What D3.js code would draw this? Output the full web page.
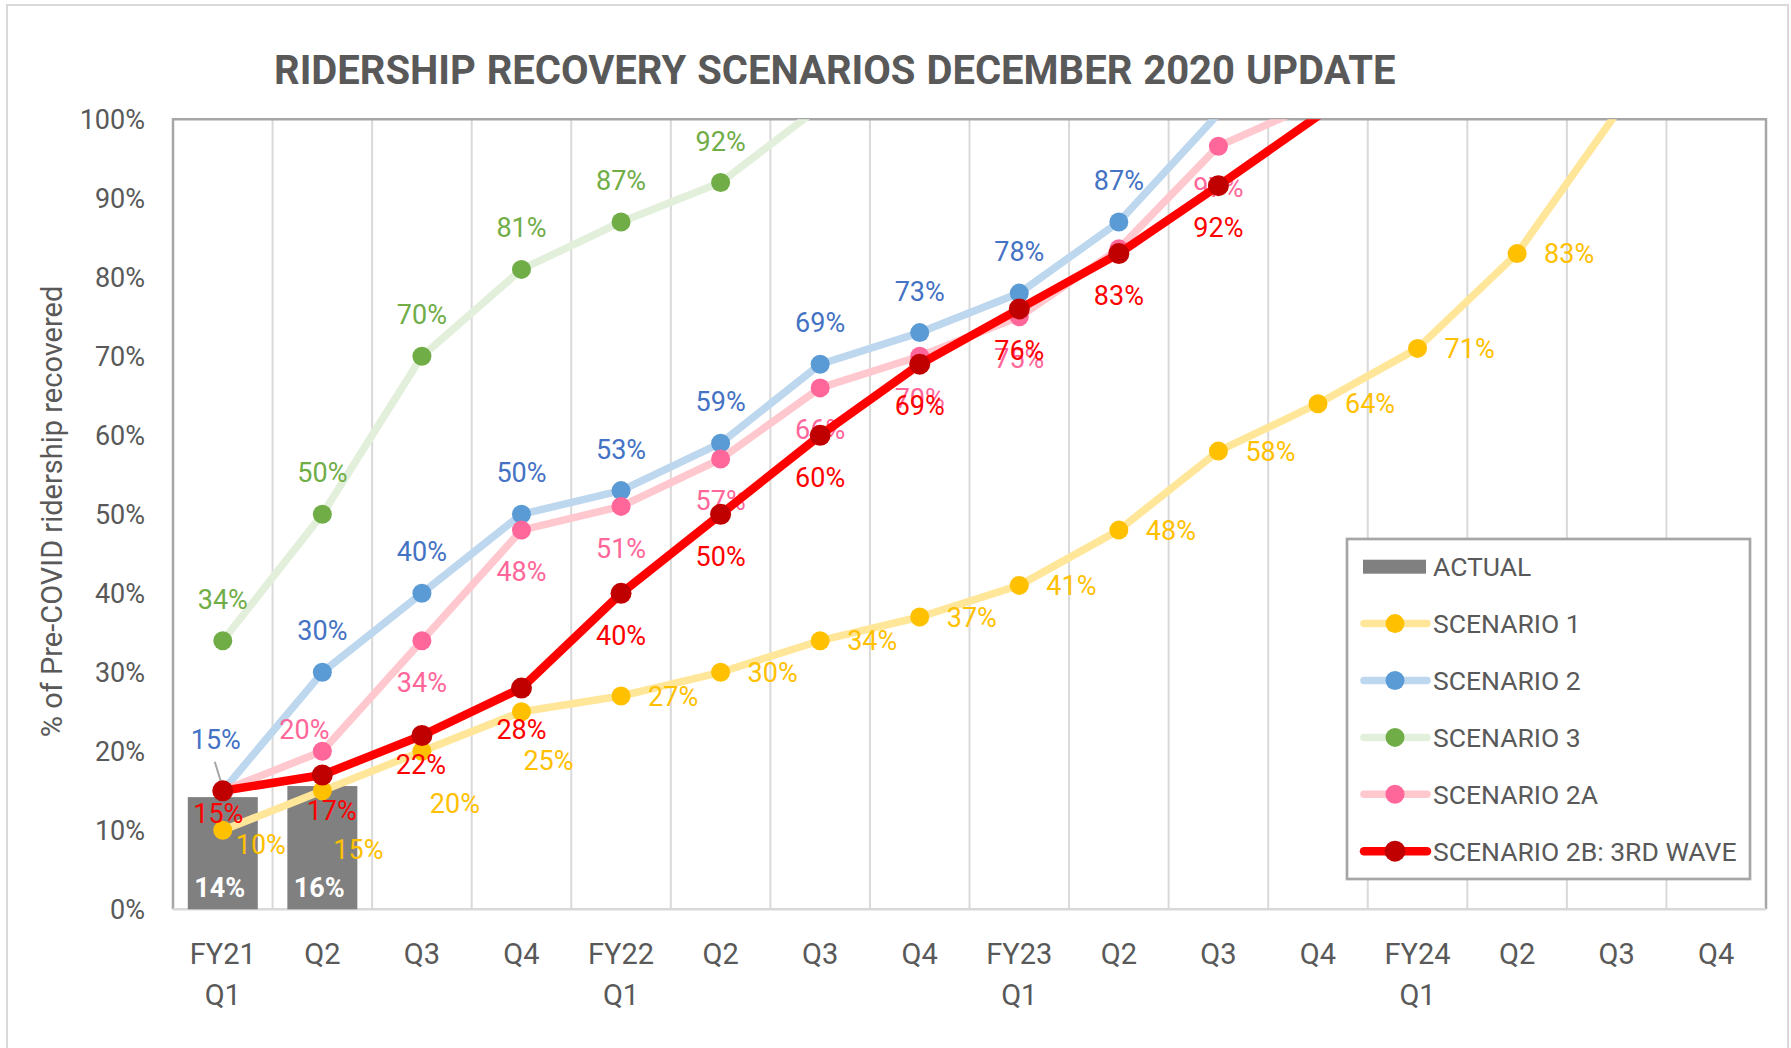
<!DOCTYPE html>
<html>
<head>
<meta charset="utf-8">
<script src="https://cdn.jsdelivr.net/npm/d3@7"></script>
<style>
  body { margin: 0; background: #fff; }
  svg { display: block; }
  text { font-family: Roboto, "Open Sans", sans-serif; }
</style>
</head>
<body>
<svg id="chart" width="1791" height="1048"></svg>
<script>
// ---------------- DATA ----------------
const quarterLabels = [["FY21","Q1"],["Q2"],["Q3"],["Q4"],["FY22","Q1"],["Q2"],["Q3"],["Q4"],
                       ["FY23","Q1"],["Q2"],["Q3"],["Q4"],["FY24","Q1"],["Q2"],["Q3"],["Q4"]];
const yTicks = [0,10,20,30,40,50,60,70,80,90,100];
const actual     = [14.2, 15.6, null, null, null, null, null, null, null, null, null, null, null, null, null, null];
const scenario1  = [10, 15, 20, 25, 27, 30, 34, 37, 41, 48, 58, 64, 71, 83, 100.8, null];
const scenario2  = [15, 30, 40, 50, 53, 59, 69, 73, 78, 87, 100.7, null, null, null, null, null];
const scenario3  = [34, 50, 70, 81, 87, 92, 101.6, null, null, null, null, null, null, null, null, null];
const scenario2A = [15, 20, 34, 48, 51, 57, 66, 70, 75, 83.6, 96.6, 102.2, null, null, null, null];
const scenario2B = [15, 17, 22, 28, 40, 50, 60, 69, 76, 83, 91.6, 100.4, null, null, null, null];
const seriesNames = ["SCENARIO 1","SCENARIO 2","SCENARIO 3","SCENARIO 2A","SCENARIO 2B: 3RD WAVE"];
const actualName = "ACTUAL";
const titleText = "RIDERSHIP RECOVERY SCENARIOS DECEMBER 2020 UPDATE";
const yTitle = "% of Pre-COVID ridership recovered";

// ---------------- STYLE ----------------
const styles = [
  {values: scenario1,  line:"#FFE699", marker:"#FFC000", label:"#FFC000", pos:"right", lw:7.5, r:9.5},
  {values: scenario2,  line:"#BDD7EE", marker:"#5B9BD5", label:"#4472C4", pos:"above", lw:7.5, r:9.5},
  {values: scenario3,  line:"#E2EFDA", marker:"#70AD47", label:"#70AD47", pos:"above", lw:7.5, r:9.5},
  {values: scenario2A, line:"#FFC7CE", marker:"#FF6699", label:"#FF6699", pos:"below", lw:7.5, r:9.5},
  {values: scenario2B, line:"#FF0000", marker:"#C00000", label:"#FF0000", pos:"below", lw:8.5, r:10.5}
];
// manual label nudges: center offset from the point [dx, dy]; "hide" removes the label
const nudges = [
  {0:[38,14], 1:[36,59], 2:[33,52], 3:[27,49]},
  {0:[-7,-51.5]},
  {},
  {0:"hide", 1:[-18,-21.6], 9:"hide"},
  {0:[-4.5,22.5], 1:[9.4,35], 2:[-1,28.5]}
];

const svg = d3.select("#chart");
const P = {left:173, right:1766, top:119.3, bottom:909.3};
const grey = "#595959";
const labelFS = 27;

const x = d3.scaleBand().domain(d3.range(quarterLabels.length)).range([P.left, P.right]);
const y = d3.scaleLinear().domain([0,100]).range([P.bottom, P.top]);
const cx = i => x(i) + x.bandwidth()/2;

// outer border
svg.append("rect").attr("x",7).attr("y",5).attr("width",1781).attr("height",1060)
  .attr("fill","#fff").attr("stroke","#D9D9D9").attr("stroke-width",2);

// title
svg.append("text").attr("x",274).attr("y",83.5)
  .attr("font-size",40).attr("font-weight","bold").attr("fill",grey)
  .attr("word-spacing", 1)
  .text(titleText);

// gridlines (vertical, at category boundaries)
svg.append("g").selectAll("line").data(d3.range(1, quarterLabels.length)).join("line")
  .attr("x1", i => x(i)).attr("x2", i => x(i))
  .attr("y1", P.top).attr("y2", P.bottom)
  .attr("stroke","#D9D9D9").attr("stroke-width",2);

// plot border
svg.append("path")
  .attr("d", `M${P.left},${P.bottom}V${P.top}H${P.right}V${P.bottom}`)
  .attr("fill","none").attr("stroke","#A6A6A6").attr("stroke-width",2.5);
svg.append("line").attr("x1",P.left).attr("x2",P.right).attr("y1",P.bottom).attr("y2",P.bottom)
  .attr("stroke","#D9D9D9").attr("stroke-width",2.5);

// y axis
const yAxis = svg.append("g").attr("transform",`translate(${P.left},0)`)
  .call(d3.axisLeft(y).tickValues(yTicks).tickSize(0).tickPadding(28).tickFormat(d => d + "%"));
yAxis.select(".domain").remove();
yAxis.selectAll("text").attr("font-size",27).attr("fill",grey).attr("font-family","Roboto, sans-serif")
  .attr("dy", null).attr("dominant-baseline","central");

// x axis
const xAxis = svg.append("g").attr("transform",`translate(0,${P.bottom})`)
  .call(d3.axisBottom(x).tickSize(0).tickFormat(""));
xAxis.select(".domain").remove();
xAxis.selectAll(".tick text").each(function(i){
  const t = d3.select(this).attr("y",0).attr("dy",null)
    .attr("font-size",29).attr("fill",grey).attr("font-family","Roboto, sans-serif");
  quarterLabels[i].forEach((s, k) => {
    t.append("tspan").attr("x",0).attr("y", 54.5 + k*41.7).text(s);
  });
});

// y axis title
svg.append("text")
  .attr("transform","translate(62,511.5) rotate(-90)")
  .attr("text-anchor","middle").attr("font-size",29).attr("fill",grey)
  .text(yTitle);

// clip
svg.append("clipPath").attr("id","plotclip").append("rect")
  .attr("x",P.left).attr("y",P.top).attr("width",P.right-P.left).attr("height",P.bottom-P.top);

// bars (ACTUAL)
const barW = x.bandwidth()*0.703;
const barData = actual.map((v,i)=>({v,i})).filter(d => d.v != null);
svg.append("g").selectAll("rect").data(barData).join("rect")
  .attr("x", d => cx(d.i) - barW/2).attr("width", barW)
  .attr("y", d => y(d.v)).attr("height", d => y(0) - y(d.v))
  .attr("fill","#808080");
svg.append("g").selectAll("text").data(barData).join("text")
  .attr("x", d => cx(d.i) - 3).attr("y", 887.3 + 0.355*27)
  .attr("text-anchor","middle").attr("font-size",27).attr("font-weight","bold").attr("fill","#fff")
  .text(d => Math.round(d.v) + "%");

// series
const line = d3.line().defined(d => d.v != null).x(d => cx(d.i)).y(d => y(d.v));
styles.forEach((s, si) => {
  const pts = s.values.map((v,i)=>({v,i}));
  const inside = pts.filter(d => d.v != null && d.v <= 100);
  const g = svg.append("g");
  const gc = g.append("g").attr("clip-path","url(#plotclip)");
  gc.append("path").datum(pts).attr("d", line)
    .attr("fill","none").attr("stroke", s.line).attr("stroke-width", s.lw)
    .attr("stroke-linejoin","round").attr("stroke-linecap","round");
  gc.selectAll("circle").data(inside).join("circle")
    .attr("cx", d => cx(d.i)).attr("cy", d => y(d.v)).attr("r", s.r).attr("fill", s.marker);

  // leader line for scenario 2 first label
  if (si === 1) {
    g.append("line").attr("x1", cx(0) - 8).attr("y1", y(s.values[0]) - 29)
      .attr("x2", cx(0)).attr("y2", y(s.values[0]) - 3)
      .attr("stroke","#A6A6A6").attr("stroke-width",2);
  }

  const labs = inside.filter(d => nudges[si][d.i] !== "hide");
  g.selectAll("text").data(labs).join("text")
    .attr("font-size", labelFS).attr("fill", s.label)
    .each(function(d){
      const t = d3.select(this);
      const px = cx(d.i), py = y(d.v);
      const n = nudges[si][d.i];
      let tx, ty, anchor = "middle";
      if (n) { tx = px + n[0]; ty = py + n[1]; }
      else if (s.pos === "above") { tx = px; ty = py - 41.5; }
      else if (s.pos === "below") { tx = px; ty = py + 41.7; }
      else { tx = px + 27; ty = py; anchor = "start"; }
      t.attr("x", tx).attr("y", ty + 0.355*labelFS).attr("text-anchor", anchor);
    })
    .text(d => d3.format(".0f")(d.v) + "%");
});

// legend
const L = {x:1347, y:539, w:403, h:340};
const lg = svg.append("g");
lg.append("rect").attr("x",L.x).attr("y",L.y).attr("width",L.w).attr("height",L.h)
  .attr("fill","#fff").attr("stroke","#A6A6A6").attr("stroke-width",2.7);
const legendItems = [{name: actualName, bar:true}].concat(seriesNames.map((n,i)=>({name:n, st:styles[i]})));
legendItems.forEach((it, k) => {
  const cy = 566.7 + k*56.9;
  if (it.bar) {
    lg.append("rect").attr("x",1363).attr("y",cy-7).attr("width",63).attr("height",14).attr("fill","#808080");
  } else {
    lg.append("line").attr("x1",1364).attr("x2",1427).attr("y1",cy).attr("y2",cy)
      .attr("stroke",it.st.line).attr("stroke-width",it.st.lw).attr("stroke-linecap","round");
    lg.append("circle").attr("cx",1395).attr("cy",cy).attr("r",it.st.r).attr("fill",it.st.marker);
  }
  lg.append("text").attr("x",1433).attr("y",cy + 0.355*26.5).attr("font-size",26.5).attr("fill",grey)
    .text(it.name);
});
</script>
</body>
</html>
